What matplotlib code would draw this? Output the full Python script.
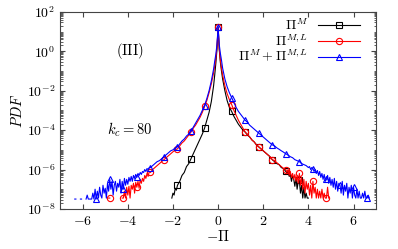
import numpy as np
import matplotlib
matplotlib.use("Agg")
import matplotlib.pyplot as plt
from matplotlib.ticker import FuncFormatter, LogLocator, NullFormatter

plt.rcParams['font.family'] = 'serif'
plt.rcParams['font.serif'] = ['DejaVu Serif']
plt.rcParams['mathtext.fontset'] = 'cm'

nan = np.nan

# (-Pi, log10 PDF)
black_pts = [
    (-2.05, -7.45), (-2.0, -7.2), (-1.95, -7.3), (-1.9, -6.95), (-1.85, -7.05),
    (-1.8, -6.8), (-1.7, -6.6), (-1.6, -6.3), (-1.5, -6.15), (-1.4, -5.85),
    (-1.3, -5.7), (-1.2, -5.45), (-1.1, -5.2), (-1.0, -4.95), (-0.9, -4.7),
    (-0.8, -4.45), (-0.7, -4.2), (-0.6, -3.9), (-0.5, -3.5), (-0.4, -3.1),
    (-0.3, -2.55), (-0.2, -1.75), (-0.15, -1.2), (-0.1, -0.6), (-0.05, 0.1),
    (0.0, 1.24),
    (0.05, 0.1), (0.1, -0.55), (0.15, -1.0), (0.2, -1.4), (0.3, -2.0),
    (0.4, -2.5), (0.5, -2.85), (0.6, -3.05), (0.7, -3.3), (0.8, -3.5),
    (0.9, -3.7), (1.0, -3.85), (1.1, -4.0), (1.2, -4.1), (1.3, -4.25),
    (1.4, -4.35), (1.5, -4.5), (1.6, -4.6), (1.7, -4.75), (1.8, -4.85),
    (1.9, -4.95), (2.0, -5.05), (2.1, -5.15), (2.2, -5.25), (2.3, -5.35),
    (2.4, -5.5), (2.5, -5.6), (2.6, -5.7), (2.7, -5.75), (2.8, -5.9),
    (2.9, -5.95), (3.0, -6.1), (3.05, -6.2), (3.1, -6.05), (3.15, -6.35),
    (3.2, -6.25), (3.25, -6.6), (3.3, -6.3), (3.35, -6.5), (3.4, -6.85),
    (3.45, -6.4), (3.5, -7.0), (3.55, -6.6), (3.6, -6.55), (3.65, -7.2),
    (3.7, -6.8), (3.75, -7.45), (3.8, -6.9), (3.85, -7.45), (3.9, -7.2),
    (3.95, -7.45), (4.0, -7.45),
]

red_pts = [
    (-4.85, -7.45), (-4.8, -7.45), (-4.75, nan), (-4.25, -7.45), (-4.2, -7.45),
    (-4.15, -7.1), (-4.1, -7.45), (-4.05, -6.9), (-4.0, -7.3), (-3.95, -6.85),
    (-3.9, -7.45), (-3.85, -6.8), (-3.8, -7.0), (-3.75, -6.7), (-3.7, -7.2),
    (-3.65, -6.65), (-3.6, -6.9), (-3.55, -6.6), (-3.5, -6.95), (-3.45, -6.5),
    (-3.4, -6.7), (-3.35, -6.45), (-3.3, -6.6), (-3.25, -6.3), (-3.2, -6.45),
    (-3.15, -6.2), (-3.1, -6.35), (-3.05, -6.1), (-3.0, -6.15), (-2.9, -6.0),
    (-2.8, -5.9), (-2.7, -5.8), (-2.6, -5.7), (-2.5, -5.6), (-2.4, -5.5),
    (-2.3, -5.4), (-2.2, -5.3), (-2.1, -5.2), (-2.0, -5.1), (-1.9, -5.0),
    (-1.8, -4.95), (-1.7, -4.8), (-1.6, -4.65), (-1.5, -4.55), (-1.4, -4.4),
    (-1.3, -4.25), (-1.2, -4.1), (-1.1, -3.9), (-1.0, -3.75), (-0.9, -3.55),
    (-0.8, -3.35), (-0.7, -3.1), (-0.6, -2.8), (-0.5, -2.5), (-0.4, -2.1),
    (-0.3, -1.65), (-0.2, -1.1), (-0.15, -0.75), (-0.1, -0.35), (-0.05, 0.2),
    (0.0, 1.24),
    (0.05, 0.15), (0.1, -0.45), (0.15, -0.85), (0.2, -1.2), (0.3, -1.75),
    (0.4, -2.15), (0.5, -2.45), (0.6, -2.7), (0.7, -3.0), (0.8, -3.25),
    (0.9, -3.5), (1.0, -3.7), (1.1, -3.9), (1.2, -4.1), (1.3, -4.2),
    (1.4, -4.35), (1.5, -4.5), (1.6, -4.6), (1.7, -4.75), (1.8, -4.85),
    (1.9, -4.95), (2.0, -5.05), (2.1, -5.15), (2.2, -5.25), (2.3, -5.35),
    (2.4, -5.5), (2.5, -5.55), (2.6, -5.65), (2.7, -5.75), (2.8, -5.85),
    (2.9, -5.95), (3.0, -6.0), (3.05, -6.15), (3.1, -6.0), (3.15, -6.3),
    (3.2, -6.1), (3.25, -6.4), (3.3, -6.2), (3.35, -6.5), (3.4, -6.25),
    (3.45, -6.6), (3.5, -6.3), (3.55, -6.7), (3.6, -6.2), (3.65, -6.8),
    (3.7, -6.4), (3.75, -7.0), (3.8, -6.5), (3.85, -7.2), (3.9, -6.6),
    (3.95, -7.0), (4.0, -6.7), (4.05, -7.3), (4.1, -6.8), (4.15, -7.45),
    (4.2, -6.6), (4.25, -7.2), (4.3, -6.9), (4.35, -7.45), (4.4, -7.0),
    (4.45, -7.45), (4.5, -7.1), (4.55, -7.45), (4.6, -7.0), (4.65, -7.45),
    (4.7, -7.2), (4.75, -7.45), (4.8, -7.45), (4.85, -6.9), (4.9, -7.45),
]

blue_pts = [
    (-6.35, -7.5), (-6.3, -7.5), (-6.25, nan), (-6.1, -7.5), (-6.05, -7.5),
    (-6.0, nan), (-5.85, -7.5), (-5.8, -7.3), (-5.75, -7.5), (-5.6, -7.5),
    (-5.55, -7.2), (-5.5, -7.5), (-5.45, -7.0), (-5.4, -7.5), (-5.35, -7.1),
    (-5.3, -7.45), (-5.25, -6.9), (-5.2, -7.3), (-5.15, -7.45), (-5.1, -6.8),
    (-5.05, -7.2), (-5.0, -6.95), (-4.95, -7.45), (-4.9, -6.7), (-4.85, -7.1),
    (-4.8, -6.5), (-4.75, -7.0), (-4.7, -6.6), (-4.65, -7.3), (-4.6, -6.8),
    (-4.55, -6.6), (-4.5, -7.1), (-4.45, -6.7), (-4.4, -6.9), (-4.35, -6.5),
    (-4.3, -7.2), (-4.25, -6.6), (-4.2, -7.0), (-4.15, -6.45), (-4.1, -6.8),
    (-4.05, -6.5), (-4.0, -6.75), (-3.95, -6.4), (-3.9, -6.6), (-3.85, -6.35),
    (-3.8, -6.6), (-3.75, -6.3), (-3.7, -6.45), (-3.65, -6.25), (-3.6, -6.4),
    (-3.55, -6.2), (-3.5, -6.3), (-3.45, -6.15), (-3.4, -6.25), (-3.35, -6.1),
    (-3.3, -6.15), (-3.25, -6.0), (-3.2, -6.1), (-3.15, -5.95), (-3.1, -6.0),
    (-3.05, -5.9), (-3.0, -5.9), (-2.9, -5.8), (-2.8, -5.7), (-2.7, -5.6),
    (-2.6, -5.55), (-2.5, -5.45), (-2.4, -5.35), (-2.3, -5.25), (-2.2, -5.15),
    (-2.1, -5.05), (-2.0, -5.0), (-1.9, -4.9), (-1.8, -4.85), (-1.7, -4.7),
    (-1.6, -4.55), (-1.5, -4.45), (-1.4, -4.3), (-1.3, -4.2), (-1.2, -4.05),
    (-1.1, -3.85), (-1.0, -3.65), (-0.9, -3.45), (-0.8, -3.25), (-0.7, -3.0),
    (-0.6, -2.75), (-0.5, -2.4), (-0.4, -2.0), (-0.3, -1.5), (-0.2, -0.9),
    (-0.15, -0.5), (-0.1, -0.15), (-0.05, 0.35), (0.0, 1.24),
    (0.05, 0.35), (0.1, -0.1), (0.15, -0.45), (0.2, -0.85), (0.3, -1.4),
    (0.4, -1.8), (0.5, -2.1), (0.6, -2.35), (0.7, -2.6), (0.8, -2.85),
    (0.9, -3.05), (1.0, -3.2), (1.1, -3.35), (1.2, -3.5), (1.3, -3.6),
    (1.4, -3.75), (1.5, -3.85), (1.6, -3.95), (1.7, -4.05), (1.8, -4.15),
    (1.9, -4.25), (2.0, -4.35), (2.1, -4.45), (2.2, -4.55), (2.3, -4.65),
    (2.4, -4.75), (2.5, -4.8), (2.6, -4.9), (2.7, -4.97), (2.8, -5.05),
    (2.9, -5.12), (3.0, -5.2), (3.1, -5.27), (3.2, -5.35), (3.3, -5.4),
    (3.4, -5.5), (3.5, -5.55), (3.6, -5.6), (3.7, -5.7), (3.8, -5.75),
    (3.9, -5.8), (4.0, -5.9), (4.05, -5.85), (4.1, -6.0), (4.15, -5.9),
    (4.2, -5.95), (4.25, -6.1), (4.3, -6.0), (4.35, -6.2), (4.4, -6.05),
    (4.45, -6.3), (4.5, -6.1), (4.55, -6.4), (4.6, -6.2), (4.65, -6.5),
    (4.7, -6.25), (4.75, -6.6), (4.8, -6.5), (4.85, -6.3), (4.9, -6.7),
    (4.95, -6.4), (5.0, -6.8), (5.05, -6.5), (5.1, -6.9), (5.15, -6.45),
    (5.2, -7.0), (5.25, -6.6), (5.3, -7.1), (5.35, -6.7), (5.4, -6.8),
    (5.45, -7.2), (5.5, -6.6), (5.55, -7.3), (5.6, -6.8), (5.65, -7.1),
    (5.7, -6.7), (5.75, -7.45), (5.8, -6.9), (5.85, -7.2), (5.9, -6.8),
    (5.95, -7.45), (6.0, -6.9), (6.05, -7.3), (6.1, -7.45), (6.15, -7.0),
    (6.2, -7.45), (6.25, -7.1), (6.3, -7.45), (6.35, -7.45), (6.4, -7.2),
    (6.45, -7.45), (6.5, -7.1), (6.55, -7.45), (6.6, -7.45), (6.65, -7.3),
    (6.7, -7.45),
]

labels = [r"$\Pi^M$", r"$\Pi^{M,L}$", r"$\Pi^M + \Pi^{M,L}$"]
colors = ["black", "red", "blue"]
markers = ["s", "o", "^"]
marker_step = 0.6
yticks = [1e-8, 1e-6, 1e-4, 1e-2, 1e0, 1e2]
xticks = [-6, -4, -2, 0, 2, 4, 6]

fig = plt.figure(figsize=(3.98, 2.49), dpi=100)
ax = fig.add_axes([0.151, 0.161, 0.794, 0.791])

for pts, lab, c, m in zip([black_pts, red_pts, blue_pts], labels, colors, markers):
    x, lg = np.array(pts).T
    q = x / marker_step
    mask = np.isclose(q, np.round(q)) & ~np.isnan(lg)
    ax.plot(x, 10.0 ** lg, color=c, lw=0.8, marker=m, ms=4.5, mfc="none",
            mec=c, mew=0.8, markevery=list(np.where(mask)[0]), label=lab)

ax.set_yscale("log")
ax.set_xlim(-7, 7)
ax.set_ylim(1e-8, 1e2)
ax.set_xticks(xticks)
ax.set_xticklabels([r"$%d$" % v for v in xticks])
ax.set_yticks(yticks)
ax.set_yticklabels([r"$10^{%d}$" % round(np.log10(v)) for v in yticks])
ax.yaxis.set_minor_locator(LogLocator(base=10, subs=np.arange(1, 10), numticks=20))
ax.yaxis.set_minor_formatter(NullFormatter())
ax.tick_params(which="both", direction="in", top=True, right=True, labelsize=10,
               colors="#444444", labelcolor="black")
ax.tick_params(which="major", length=3.5)
ax.tick_params(which="minor", length=1.8)
for s in ax.spines.values():
    s.set_color("#444444")

ax.set_xlabel(r"$-\Pi$", fontsize=10.5, labelpad=1)
ax.set_ylabel(r"$PDF$", fontsize=10.5, labelpad=1)
ax.text(-3.9, 1.0, r"$\mathrm{(III)}$", fontsize=10.5, ha="center", va="center")
ax.text(-3.9, 1e-4, r"$k_c = 80$", fontsize=10.5, ha="center", va="center")

ax.legend(loc="upper right", markerfirst=False, frameon=False, fontsize=10,
          handlelength=3.0, labelspacing=0.0, borderaxespad=0.2,
          handletextpad=0.7, bbox_to_anchor=(0.975, 1.015))

fig.savefig("out.png", dpi=100)
plt.close(fig)
